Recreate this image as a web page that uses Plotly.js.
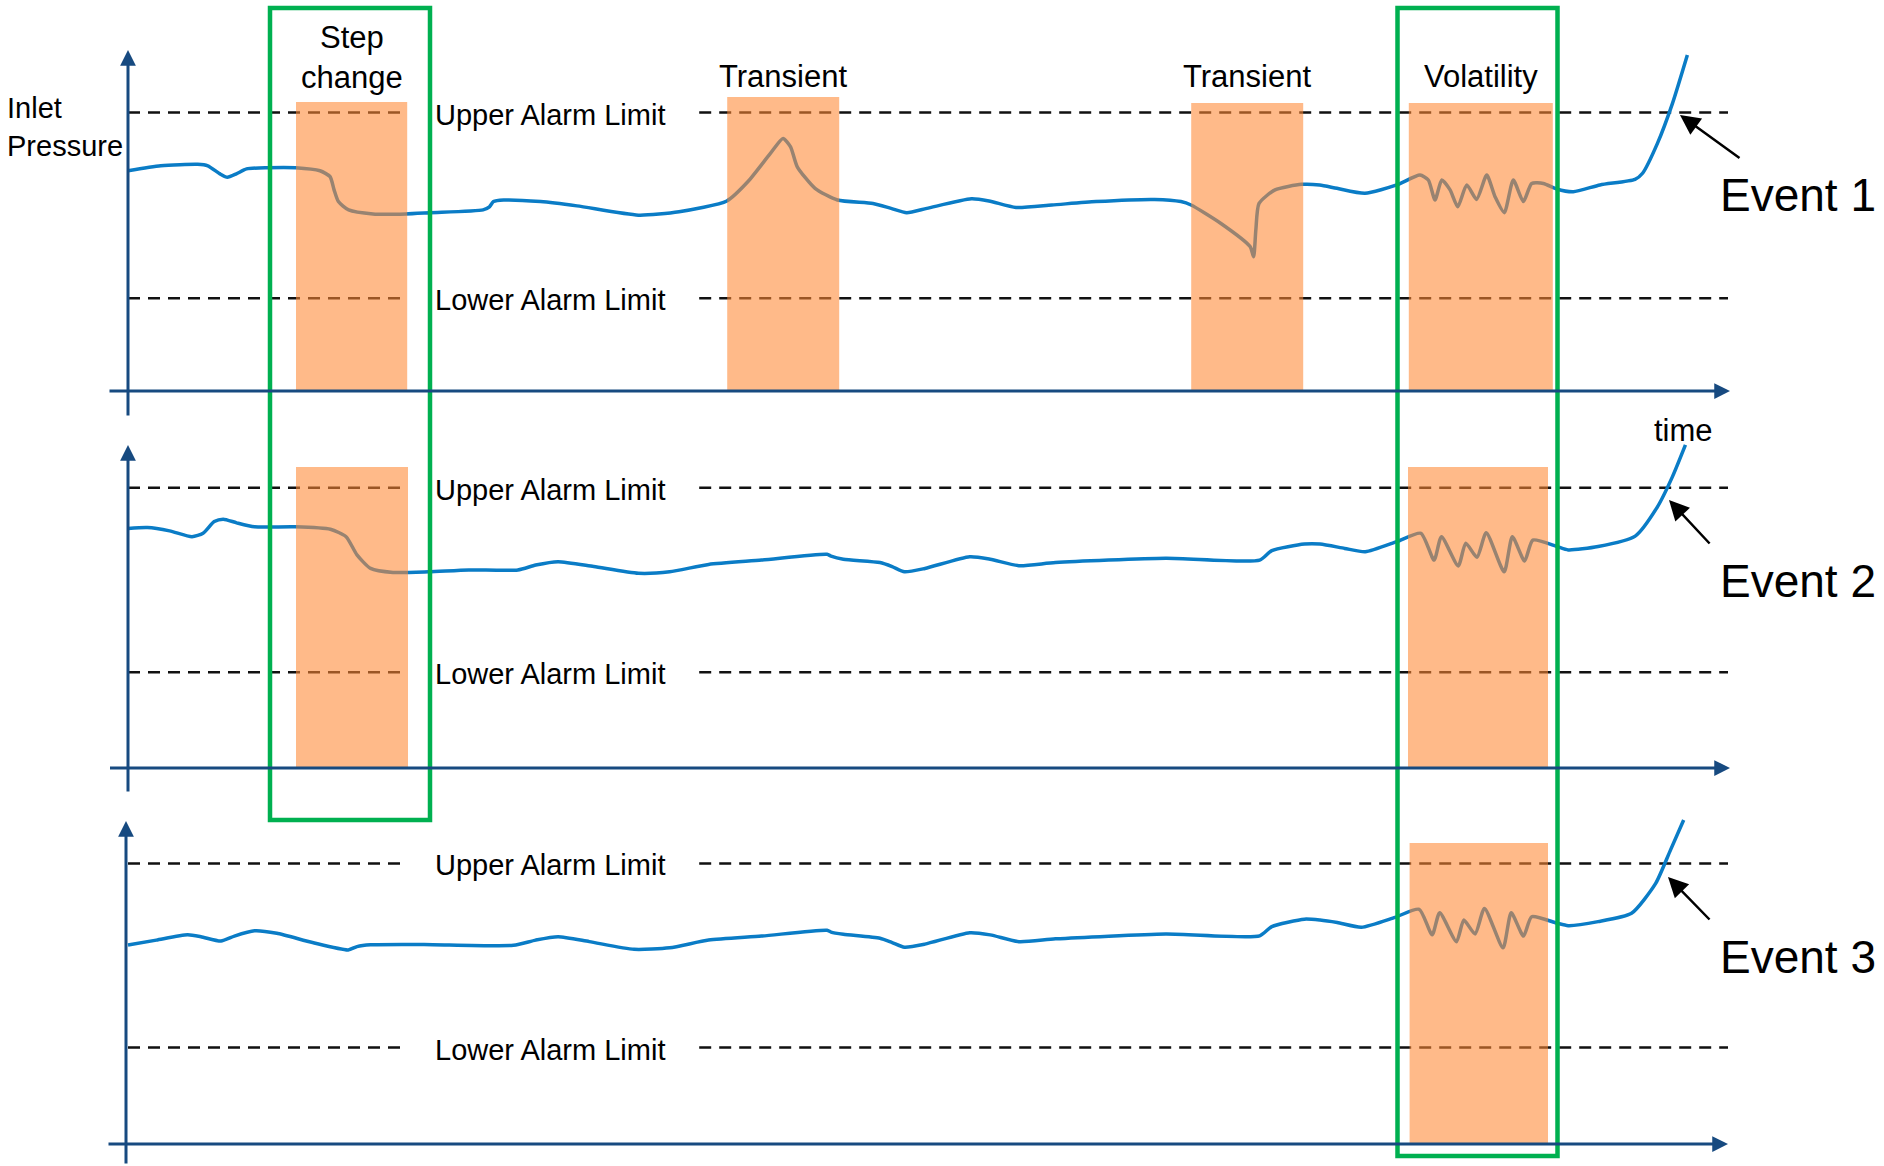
<!DOCTYPE html>
<html>
<head>
<meta charset="utf-8">
<script src="https://cdn.plot.ly/plotly-3.0.1.min.js"></script>
<style>
  html, body { margin: 0; padding: 0; background: #ffffff; }
  #chart { width: 1884px; height: 1166px; }
</style>
</head>
<body>
<div id="chart"></div>
<script>
// Inlet pressure against time for three alarm scenarios (arbitrary units)
const TIME_1 = [0, 2.05, 4.35, 4.99, 5.75, 6.21, 6.77, 7.41, 8.69, 10.47, 12.0, 12.63, 12.88, 13.15, 13.79,
  15.31, 17.36, 18.88, 22.19, 22.59, 22.84, 23.48, 25.78, 28.06, 31.9, 34.44, 37.43, 38.75, 40.16, 40.94,
  41.41, 41.83, 42.94, 44.34, 46.56, 47.69, 48.67, 49.93, 52.71, 53.81, 55.5, 57.74, 60.5, 64.16, 65.81,
  66.44, 68.31, 70.13, 70.35, 70.49, 70.69, 71.69, 73.36, 74.48, 75.56, 77.31, 79.3, 80.75, 81.27, 81.69,
  82.11, 82.63, 83.11, 83.67, 84.29, 84.92, 85.44, 86.02, 86.58, 87.21, 87.73, 88.46, 89.29, 90.33, 92.0,
  94.19, 94.66, 95.59, 96.53, 97.46];
const PRESSURE_1 = [71.5, 73.1, 73.6, 73.1, 70.5, 69.4, 70.5, 72.1, 72.5, 72.5, 71.5, 69.6, 65.3, 61.5, 58.8,
  57.5, 57.5, 57.9, 58.8, 59.8, 61.5, 62.0, 61.5, 60.1, 57.1, 58.2, 61.7, 68.0, 77.2, 82.0,
  79.3, 72.8, 65.8, 62.0, 60.9, 59.3, 57.9, 59.3, 62.4, 61.7, 59.6, 60.4, 61.5, 62.2, 61.5,
  60.4, 54.4, 46.9, 43.6, 52.3, 60.9, 65.3, 67.1, 66.9, 65.8, 64.2, 66.9, 70.1, 68.5, 62.0,
  68.5, 65.3, 59.8, 66.9, 62.2, 70.1, 63.1, 57.9, 68.5, 61.5, 67.4, 67.4, 65.6, 64.7, 66.9,
  68.7, 70.7, 80.4, 93.4, 109.1];

const TIME_2 = [0, 1.21, 2.6, 4.0, 4.69, 5.39, 5.95, 6.79, 7.91, 10.41, 12.65, 13.63, 14.31, 15.16, 16.56,
  18.79, 21.3, 24.37, 25.48, 26.88, 29.11, 31.9, 33.85, 36.29, 39.6, 43.69, 43.94, 44.71, 47.0, 47.76,
  48.53, 49.81, 52.61, 53.89, 55.68, 57.97, 64.86, 70.73, 71.49, 73.53, 74.5, 76.04, 77.33, 79.3, 80.81,
  81.63, 82.09, 83.14, 83.61, 84.31, 84.89, 86.01, 86.52, 87.29, 87.8, 89.31, 90.01, 91.88, 94.2, 95.59,
  96.53, 97.34];
const PRESSURE_2 = [77.8, 78.1, 77.0, 75.1, 76.2, 80.0, 80.8, 79.6, 78.3, 78.3, 77.5, 75.1, 69.2, 64.8, 63.5,
  63.7, 64.3, 64.3, 65.9, 67.0, 65.4, 63.2, 63.7, 66.1, 67.5, 69.4, 68.8, 67.8, 66.7, 65.4,
  63.7, 64.8, 68.6, 67.8, 65.7, 66.7, 68.1, 67.5, 70.6, 72.7, 72.7, 71.3, 70.2, 73.5, 76.2,
  67.5, 75.1, 65.6, 73.0, 68.4, 76.4, 63.7, 75.1, 67.2, 74.0, 71.9, 70.8, 71.9, 75.3, 84.8,
  94.6, 104.9];

const TIME_3 = [0, 1.77, 3.72, 4.56, 5.81, 6.65, 7.91, 9.3, 11.53, 13.76, 14.31, 15.16, 18.5, 24.09, 25.48,
  26.88, 28.83, 31.63, 33.85, 36.29, 39.6, 43.69, 43.94, 44.71, 47.0, 47.76, 48.53, 49.81, 52.61, 53.89,
  55.68, 57.97, 64.86, 70.73, 71.49, 73.53, 74.5, 75.58, 77.09, 79.19, 80.7, 81.51, 81.98, 83.03, 83.49,
  84.19, 84.78, 85.94, 86.45, 87.22, 87.73, 89.31, 90.01, 91.88, 93.97, 95.48, 96.41, 97.23];
const PRESSURE_3 = [64.6, 66.2, 67.9, 67.3, 65.9, 67.5, 69.2, 68.4, 65.4, 63.0, 64.1, 64.7, 64.8, 64.5, 66.2,
  67.3, 65.7, 63.2, 63.7, 66.2, 67.5, 69.4, 68.8, 68.1, 66.8, 65.4, 63.9, 64.9, 68.6, 67.9,
  65.7, 66.6, 68.2, 67.6, 70.6, 73.0, 72.7, 71.9, 70.4, 73.6, 76.2, 67.9, 75.1, 65.7, 72.7,
  68.2, 76.5, 63.7, 75.1, 67.5, 73.8, 71.7, 70.9, 72.2, 74.9, 84.6, 95.5, 105.2];

// Alarm limits for each scenario
const UPPER_LIMIT = [90.4, 91.0, 91.1];
const LOWER_LIMIT = [30.1, 31.1, 31.3];
const LIMIT_SPAN = [0, 100];
const LABEL_GAP = [17.1, 35.7];

// Highlighted time windows of each scenario
const WINDOWS_1 = [[10.5, 17.45], [37.45, 44.45], [66.45, 73.45], [80.05, 89.05]];
const WINDOW_LABELS_1 = ['Step<br>change', 'Transient', 'Transient', 'Volatility'];
const WINDOWS_2 = [[10.5, 17.5], [80.0, 88.75]];
const WINDOWS_3 = [[80.1, 88.75]];

const EVENT_LABELS = ['Event 1', 'Event 2', 'Event 3'];

// ---- layout geometry ----
const W = 1884, H = 1166;
const PX0 = 128, PX_PER_T = 16;          // horizontal scale: pixel of t = 0, pixels per time unit
const K = 3.08;                           // pixels per pressure unit
const AXIS_ROW = [391, 768, 1144];        // pixel row of each time axis
const BAND = [[0, 430], [430, 800], [800, 1166]];
const tAt = px => (px - PX0) / PX_PER_T;
const pAt = (i, row) => (AXIS_ROW[i] - row) / K;
const paperY = row => 1 - row / H;
const yName = i => (i === 0 ? 'y' : 'y' + (i + 1));

const FONT = 'Liberation Sans, Arial, Helvetica, sans-serif';
const NAVY = '#174A80';
const BLUE = '#0A7CC6';

const series = [[TIME_1, PRESSURE_1], [TIME_2, PRESSURE_2], [TIME_3, PRESSURE_3]];
const windows = [WINDOWS_1, WINDOWS_2, WINDOWS_3];
const shadeTopRows = [[102, 97, 103, 103], [467, 467], [843]];

const traces = [];
const shapes = [];
const annotations = [];

series.forEach(([t, p], i) => {
  const ya = yName(i);
  [UPPER_LIMIT[i], LOWER_LIMIT[i]].forEach(v => {
    traces.push({
      x: [LIMIT_SPAN[0], LABEL_GAP[0], null, LABEL_GAP[1], LIMIT_SPAN[1]],
      y: [v, v, null, v, v],
      xaxis: 'x', yaxis: ya, mode: 'lines', hoverinfo: 'skip',
      line: { color: '#111111', width: 2.5, dash: '12px,8px' }
    });
  });
  traces.push({
    x: t, y: p, xaxis: 'x', yaxis: ya, mode: 'lines', hoverinfo: 'skip',
    line: { color: BLUE, width: 3.5, shape: 'spline', smoothing: 0.6 }
  });

  // limit labels sit in the gap of the dashed lines
  const mid = (LABEL_GAP[0] + LABEL_GAP[1]) / 2;
  [['Upper Alarm Limit', UPPER_LIMIT[i]], ['Lower Alarm Limit', LOWER_LIMIT[i]]].forEach(([txt, v]) => {
    annotations.push({
      x: mid, y: v, xref: 'x', yref: ya, text: txt, showarrow: false,
      xanchor: 'center', yanchor: 'middle', yshift: -2,
      font: { family: FONT, size: 29, color: '#000000' }
    });
  });

  // shaded windows
  windows[i].forEach((w, j) => {
    shapes.push({
      type: 'rect', xref: 'x', yref: ya, x0: w[0], x1: w[1], y0: 0, y1: pAt(i, shadeTopRows[i][j]),
      fillcolor: 'rgb(255,136,51)', opacity: 0.58, line: { width: 0 }, layer: 'above'
    });
  });

  // axes drawn as arrows
  const xTail = [108, 108.5, 107][i], xTip = [1730, 1730, 1728][i];
  const yTip = [50, 445, 821][i], yTail = [417, 793, 1165][i];
  const axisX = i === 2 ? tAt(126) : 0;
  annotations.push({
    x: tAt(xTip), y: 0, ax: tAt(xTail), ay: 0, xref: 'x', yref: ya, axref: 'x', ayref: ya,
    text: '', showarrow: true, arrowhead: 2, arrowsize: 1.05, arrowwidth: 3, arrowcolor: NAVY
  });
  annotations.push({
    x: axisX, y: pAt(i, yTip), ax: axisX, ay: pAt(i, yTail), xref: 'x', yref: ya, axref: 'x', ayref: ya,
    text: '', showarrow: true, arrowhead: 2, arrowsize: 1.05, arrowwidth: 3, arrowcolor: NAVY
  });

  // event pointer and label
  const tip = [[1680, 115], [1669, 500], [1668, 877]][i];
  const tail = [[1741, 159], [1711, 545], [1711, 921]][i];
  annotations.push({
    x: tAt(tip[0]), y: pAt(i, tip[1]), ax: tAt(tail[0]), ay: pAt(i, tail[1]),
    xref: 'x', yref: ya, axref: 'x', ayref: ya,
    text: '', showarrow: true, arrowhead: 2, arrowsize: 1.6, arrowwidth: 2.5, arrowcolor: '#000000'
  });
  const evRow = [195, 581, 957][i];
  annotations.push({
    x: tAt(1798), y: pAt(i, evRow), xref: 'x', yref: ya, text: EVENT_LABELS[i], showarrow: false,
    xanchor: 'center', yanchor: 'middle', font: { family: FONT, size: 46, color: '#000000' }
  });
});

// labels above the shaded windows of the first scenario
WINDOWS_1.forEach((w, j) => {
  const row = j === 0 ? 57.5 : 76;
  annotations.push({
    x: (w[0] + w[1]) / 2, y: pAt(0, row), xref: 'x', yref: 'y', text: WINDOW_LABELS_1[j],
    showarrow: false, xanchor: 'center', yanchor: 'middle',
    font: { family: FONT, size: 31, color: '#000000' }
  });
});

// green frames around the windows that line up across scenarios
[[270, 430, 8, 820], [1397.5, 1557.5, 8, 1156]].forEach(([l, r, top, bottom]) => {
  shapes.push({
    type: 'rect', xref: 'x', yref: 'paper', x0: tAt(l), x1: tAt(r), y0: paperY(bottom), y1: paperY(top),
    line: { color: '#00B050', width: 4.5 }, fillcolor: 'rgba(0,0,0,0)', layer: 'above'
  });
});

annotations.push({
  x: 5 / W, y: paperY(126.5), xref: 'paper', yref: 'paper', text: 'Inlet<br>Pressure',
  showarrow: false, xanchor: 'left', yanchor: 'middle', align: 'left',
  font: { family: FONT, size: 29, color: '#000000' }
});
annotations.push({
  x: 1683 / W, y: paperY(431), xref: 'paper', yref: 'paper', text: 'time',
  showarrow: false, xanchor: 'center', yanchor: 'middle',
  font: { family: FONT, size: 31, color: '#000000' }
});

const layout = {
  width: W, height: H,
  margin: { l: 0, r: 0, t: 0, b: 0, pad: 0 },
  paper_bgcolor: '#ffffff', plot_bgcolor: 'rgba(0,0,0,0)',
  showlegend: false,
  xaxis: { domain: [0, 1], range: [tAt(0), tAt(W)], visible: false, fixedrange: true },
  shapes: shapes,
  annotations: annotations
};
BAND.forEach(([top, bottom], i) => {
  layout[i === 0 ? 'yaxis' : 'yaxis' + (i + 1)] = {
    domain: [1 - bottom / H, 1 - top / H],
    range: [pAt(i, bottom), pAt(i, top)],
    visible: false, fixedrange: true, anchor: 'x'
  };
});

Plotly.newPlot('chart', traces, layout, { staticPlot: true, displayModeBar: false });
</script>
</body>
</html>
